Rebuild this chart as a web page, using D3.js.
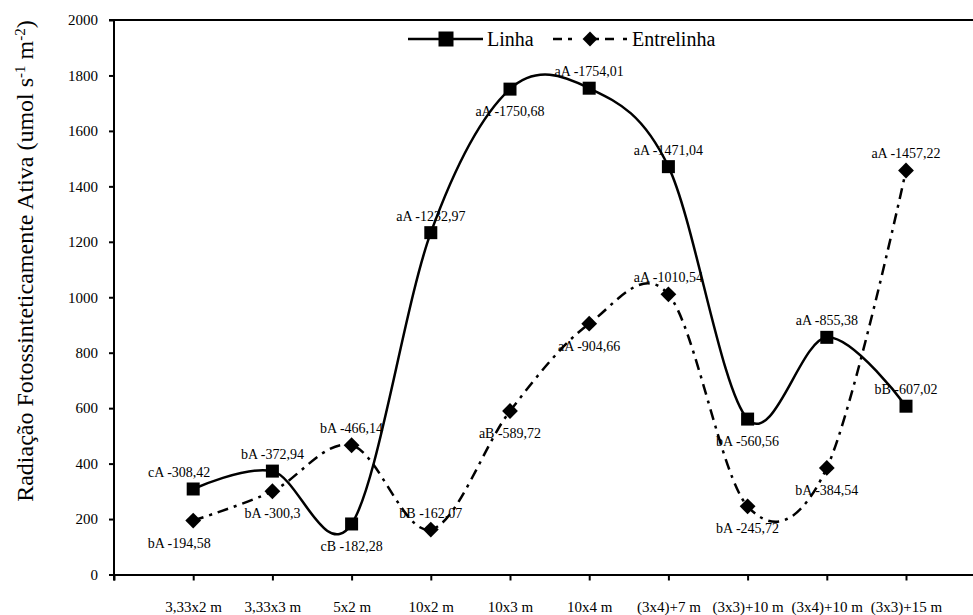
<!DOCTYPE html>
<html>
<head>
<meta charset="utf-8">
<script src="https://cdn.jsdelivr.net/npm/d3@7"></script>
<style>
  html, body { margin: 0; padding: 0; background: #fff; }
  svg { display: block; }
  text { font-family: "Liberation Serif", "Times New Roman", serif; fill: #000; }
</style>
</head>
<body>
<svg id="chart" width="973" height="615"></svg>
<script>
// ---- data ----
const categories = ["3,33x2 m", "3,33x3 m", "5x2 m", "10x2 m", "10x3 m", "10x4 m",
                    "(3x4)+7 m", "(3x3)+10 m", "(3x4)+10 m", "(3x3)+15 m"];
const linhaValues = [308.42, 372.94, 182.28, 1232.97, 1750.68, 1754.01, 1471.04, 560.56, 855.38, 607.02];
const linhaLetters = ["cA", "bA", "cB", "aA", "aA", "aA", "aA", "bA", "aA", "bB"];
const entreValues = [194.58, 300.3, 466.14, 162.07, 589.72, 904.66, 1010.54, 245.72, 384.54, 1457.22];
const entreLetters = ["bA", "bA", "bA", "bB", "aB", "aA", "aA", "bA", "bA", "aA"];
const yTicks = [0, 200, 400, 600, 800, 1000, 1200, 1400, 1600, 1800, 2000];
const seriesNames = ["Linha", "Entrelinha"];

// ---- label placement (style) ----
const linhaPlace = ["above", "above", "below", "above", "below", "above", "above", "below", "above", "above"];
const entrePlace = ["below", "below", "above", "above", "below", "below", "above", "below", "below", "above"];

const svg = d3.select("#chart");
const mLeft = 114, mTop = 20, mBottom = 574.5, step = 79.2;

const x = d3.scaleLinear().domain([-1, 10]).range([mLeft, mLeft + 11 * step]);
const y = d3.scaleLinear().domain([0, 2000]).range([mBottom, mTop]);

const fmt = v => String(v).replace(".", ",");

// top border
svg.append("line")
  .attr("x1", x(-1) - 5).attr("x2", x(10))
  .attr("y1", y(2000)).attr("y2", y(2000))
  .attr("stroke", "#000").attr("stroke-width", 2);

// x axis
const xAxis = d3.axisBottom(x)
  .tickValues(d3.range(categories.length))
  .tickFormat(i => categories[i])
  .tickSize(6).tickPadding(21);
const gx = svg.append("g").attr("transform", `translate(0,${mBottom})`).call(xAxis);
gx.select(".domain").attr("stroke", "#000").attr("stroke-width", 2);
gx.selectAll(".tick line").attr("stroke", "#000").attr("stroke-width", 2);
gx.selectAll(".tick text").attr("font-size", 15);

// y axis
const yAxis = d3.axisLeft(y).tickValues(yTicks).tickFormat(d3.format("d")).tickSize(5).tickPadding(11);
const gy = svg.append("g").attr("transform", `translate(${mLeft},0)`).call(yAxis);
gy.select(".domain").attr("stroke", "#000").attr("stroke-width", 2)
  .attr("d", `M0,${mBottom + 6}V${mTop}`);
gy.selectAll(".tick line").attr("stroke", "#000").attr("stroke-width", 2);
gy.selectAll(".tick text").attr("font-size", 15);

// y label
const yl = svg.append("text")
  .attr("transform", "translate(33,261) rotate(-90)")
  .attr("text-anchor", "middle")
  .attr("font-size", 24);
yl.append("tspan").text("Radiação Fotossinteticamente Ativa (umol s");
yl.append("tspan").attr("baseline-shift", "super").attr("font-size", 15).text("-1");
yl.append("tspan").text(" m");
yl.append("tspan").attr("baseline-shift", "super").attr("font-size", 15).text("-2");
yl.append("tspan").text(")");

// lines
const line = d3.line()
  .x((d, i) => x(i))
  .y(d => y(d))
  .curve(d3.curveCardinal.tension(0));

svg.append("path").datum(linhaValues)
  .attr("d", line).attr("fill", "none")
  .attr("stroke", "#000").attr("stroke-width", 2.5);

svg.append("path").datum(entreValues)
  .attr("d", line).attr("fill", "none")
  .attr("stroke", "#000").attr("stroke-width", 2.5)
  .attr("stroke-dasharray", "11,6,3,6");

// markers
const sq = 13;
svg.append("g").selectAll("rect").data(linhaValues).join("rect")
  .attr("x", (d, i) => x(i) - sq / 2).attr("y", d => y(d) - sq / 2)
  .attr("width", sq).attr("height", sq).attr("fill", "#000");

svg.append("g").selectAll("path").data(entreValues).join("path")
  .attr("d", d3.symbol().type(d3.symbolSquare).size(125))
  .attr("transform", (d, i) => `translate(${x(i)},${y(d)}) rotate(45)`)
  .attr("fill", "#000");

// data labels
function addLabels(values, letters, place) {
  svg.append("g").selectAll("text").data(values).join("text")
    .attr("x", (d, i) => x(i) + (i === 0 ? -14 : 0))
    .attr("y", (d, i) => y(d) + (place[i] === "above" ? -17 : 22) + 5)
    .attr("text-anchor", "middle")
    .attr("font-size", 14)
    .text((d, i) => `${letters[i]} -${fmt(d)}`);
}
addLabels(linhaValues, linhaLetters, linhaPlace);
addLabels(entreValues, entreLetters, entrePlace);

// legend
const lg = svg.append("g");
const ly = 39;
lg.append("line").attr("x1", 408).attr("x2", 483).attr("y1", ly).attr("y2", ly)
  .attr("stroke", "#000").attr("stroke-width", 2.5);
lg.append("rect").attr("x", 446 - 7.5).attr("y", ly - 7.5).attr("width", 15).attr("height", 15).attr("fill", "#000");
lg.append("text").attr("x", 487).attr("y", ly + 6.5).attr("font-size", 20).text(seriesNames[0]);
lg.append("line").attr("x1", 553).attr("x2", 627).attr("y1", ly).attr("y2", ly)
  .attr("stroke", "#000").attr("stroke-width", 2.5).attr("stroke-dasharray", "9,6,4,23,4,6,9");
lg.append("path").attr("d", d3.symbol().type(d3.symbolSquare).size(110))
  .attr("transform", `translate(590,${ly}) rotate(45)`).attr("fill", "#000");
lg.append("text").attr("x", 632).attr("y", ly + 6.5).attr("font-size", 20).text(seriesNames[1]);
</script>
</body>
</html>
